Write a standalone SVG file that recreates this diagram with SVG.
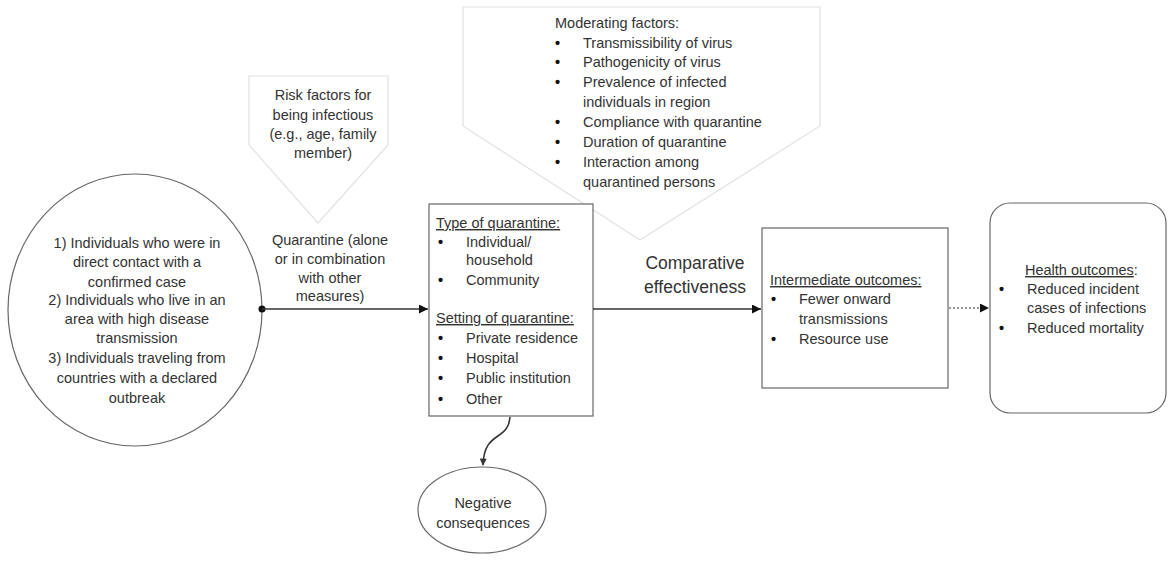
<svg xmlns="http://www.w3.org/2000/svg" width="1168" height="561" viewBox="0 0 1168 561">
<style>
text{font-family:"Liberation Sans",Arial,sans-serif;font-size:14.5px;fill:#333}
.c{text-anchor:middle}
.u{text-decoration:underline}
.b{font-weight:bold;fill:#111}
.big{font-size:17.5px}
.node{fill:#fff;stroke:#666;stroke-width:1.2}
.pent{fill:#fff;stroke:#e2e2e2;stroke-width:1.2}
.conn{fill:none;stroke:#333;stroke-width:1.6}
</style>
<defs>
<marker id="ah" viewBox="0 0 10 10" refX="10" refY="5" markerWidth="11" markerHeight="9" markerUnits="userSpaceOnUse" orient="auto"><path d="M0,0L10,5L0,10Z" fill="#111"/></marker>
<marker id="ah2" viewBox="0 0 10 10" refX="9" refY="5" markerWidth="8" markerHeight="7" markerUnits="userSpaceOnUse" orient="auto"><path d="M0,0L10,5L0,10Z" fill="#333"/></marker>
</defs>
<g id="moderating">
<polygon class="pent" points="463,7 820,7 820,126 640,240 463,126"/>
<text x="555" y="28">Moderating factors:</text>
<text class="b" x="555" y="48">•</text><text x="583" y="48">Transmissibility of virus</text>
<text class="b" x="555" y="67">•</text><text x="583" y="67">Pathogenicity of virus</text>
<text class="b" x="555" y="87">•</text><text x="583" y="87">Prevalence of infected</text>
<text x="583" y="107">individuals in region</text>
<text class="b" x="555" y="127">•</text><text x="583" y="127">Compliance with quarantine</text>
<text class="b" x="555" y="147">•</text><text x="583" y="147">Duration of quarantine</text>
<text class="b" x="555" y="167">•</text><text x="583" y="167">Interaction among</text>
<text x="583" y="187">quarantined persons</text>
</g>
<g id="risk">
<polygon class="pent" points="249,76 388,76 388,145 318,223 249,145"/>
<text class="c" x="323" y="100">Risk factors for</text>
<text class="c" x="323" y="120">being infectious</text>
<text class="c" x="323" y="139">(e.g., age, family</text>
<text class="c" x="323" y="158">member)</text>
</g>
<g id="population">
<ellipse class="node" cx="135" cy="310" rx="127" ry="136"/>
<text class="c" x="137" y="248">1) Individuals who were in</text>
<text class="c" x="137" y="267">direct contact with a</text>
<text class="c" x="137" y="287">confirmed case</text>
<text class="c" x="137" y="305">2) Individuals who live in an</text>
<text class="c" x="137" y="324">area with high disease</text>
<text class="c" x="137" y="343">transmission</text>
<text class="c" x="137" y="363">3) Individuals traveling from</text>
<text class="c" x="137" y="383">countries with a declared</text>
<text class="c" x="137" y="403">outbreak</text>
</g>
<g id="quarantine-label">
<text class="c" x="330" y="245">Quarantine (alone</text>
<text class="c" x="330" y="264">or in combination</text>
<text class="c" x="330" y="283">with other</text>
<text class="c" x="330" y="301">measures)</text>
</g>
<g id="quarantine">
<rect class="node" x="429" y="204" width="164" height="212"/>
<text class="u" x="436" y="228">Type of quarantine:</text>
<text class="b" x="438" y="247">•</text><text x="466" y="247">Individual/</text>
<text x="466" y="265">household</text>
<text class="b" x="438" y="285">•</text><text x="466" y="285">Community</text>
<text class="u" x="436" y="323">Setting of quarantine:</text>
<text class="b" x="438" y="343">•</text><text x="466" y="343">Private residence</text>
<text class="b" x="438" y="363">•</text><text x="466" y="363">Hospital</text>
<text class="b" x="438" y="383">•</text><text x="466" y="383">Public institution</text>
<text class="b" x="438" y="404">•</text><text x="466" y="404">Other</text>
</g>
<g id="comparative-label">
<text class="c big" x="695" y="269">Comparative</text>
<text class="c big" x="695" y="293">effectiveness</text>
</g>
<g id="intermediate">
<rect class="node" x="762" y="228" width="186" height="160"/>
<text class="u" x="770" y="285">Intermediate outcomes:</text>
<text class="b" x="771" y="304">•</text><text x="799" y="304">Fewer onward</text>
<text x="799" y="324">transmissions</text>
<text class="b" x="771" y="344">•</text><text x="799" y="344">Resource use</text>
</g>
<g id="health">
<rect class="node" x="990" y="203" width="176" height="210" rx="20" ry="20"/>
<text x="1025" y="275"><tspan class="u">Health outcomes</tspan>:</text>
<text class="b" x="999" y="294">•</text><text x="1027" y="294">Reduced incident</text>
<text x="1027" y="313">cases of infections</text>
<text class="b" x="999" y="333">•</text><text x="1027" y="333">Reduced mortality</text>
</g>
<g id="negative">
<ellipse class="node" cx="482" cy="510" rx="64" ry="43"/>
<text class="c" x="483" y="508">Negative</text>
<text class="c" x="483" y="528">consequences</text>
</g>
<g id="connectors">
<circle cx="262" cy="309" r="3.5" fill="#111"/>
<line class="conn" x1="262" y1="309" x2="428" y2="309" marker-end="url(#ah)"/>
<line class="conn" x1="593" y1="309" x2="761" y2="309" marker-end="url(#ah)"/>
<line x1="949" y1="308" x2="989" y2="308" stroke="#777" stroke-width="1.4" stroke-dasharray="2,2" marker-end="url(#ah)"/>
<path class="conn" d="M510,417 C508,442 484,430 483,465" stroke-width="1.3" marker-end="url(#ah2)"/>
</g>
</svg>
